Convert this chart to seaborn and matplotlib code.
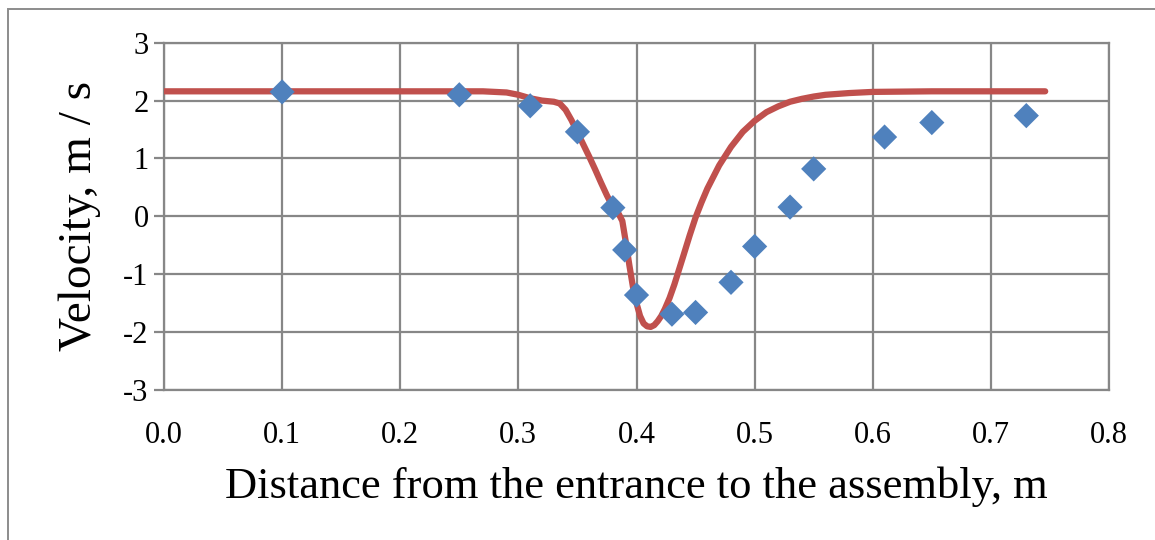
import matplotlib
matplotlib.use("Agg")
import matplotlib.pyplot as plt
import pandas as pd
import numpy as np
import seaborn as sns

# measured velocity (diamonds)
meas_x = [0.10, 0.25, 0.31, 0.35, 0.38, 0.39, 0.40, 0.43, 0.45, 0.48, 0.50, 0.53, 0.55, 0.61, 0.65, 0.73]
meas_v = [2.15, 2.10, 1.91, 1.46, 0.15, -0.58, -1.36, -1.69, -1.66, -1.14, -0.52, 0.16, 0.82, 1.37, 1.62, 1.74]

# calculated velocity (red curve)
calc_x = [0.0, 0.05, 0.10, 0.15, 0.20, 0.25, 0.27, 0.29, 0.30, 0.31, 0.32, 0.33, 0.335, 0.34,
          0.345, 0.35, 0.355, 0.36, 0.365, 0.37, 0.375, 0.38, 0.385, 0.388, 0.391, 0.394,
          0.397, 0.400, 0.403, 0.406, 0.409, 0.412, 0.415, 0.418, 0.421, 0.424, 0.428,
          0.432, 0.436, 0.44, 0.445, 0.45, 0.455, 0.46, 0.47, 0.48, 0.49, 0.50, 0.51,
          0.52, 0.53, 0.54, 0.55, 0.56, 0.58, 0.60, 0.65, 0.70, 0.746]
calc_v = [2.16, 2.16, 2.16, 2.16, 2.16, 2.16, 2.16, 2.14, 2.10, 2.04, 2.00, 1.98, 1.95, 1.84,
          1.66, 1.45, 1.24, 1.03, 0.81, 0.58, 0.36, 0.16, 0.04, -0.08, -0.45, -0.85,
          -1.22, -1.50, -1.72, -1.85, -1.90, -1.91, -1.88, -1.81, -1.72, -1.60, -1.41,
          -1.18, -0.92, -0.66, -0.33, -0.02, 0.24, 0.48, 0.88, 1.20, 1.46, 1.65, 1.80,
          1.90, 1.98, 2.03, 2.07, 2.10, 2.13, 2.15, 2.16, 2.16, 2.16]

xticks = [0.0, 0.1, 0.2, 0.3, 0.4, 0.5, 0.6, 0.7, 0.8]
yticks = [-3, -2, -1, 0, 1, 2, 3]

sns.set_style("white")
plt.rcParams["font.family"] = ["Liberation Serif", "DejaVu Serif"]
plt.rcParams["text.color"] = "black"
plt.rcParams["axes.labelcolor"] = "black"
plt.rcParams["xtick.color"] = "black"
plt.rcParams["ytick.color"] = "black"

calc = pd.DataFrame({"x": calc_x, "v": calc_v})
meas = pd.DataFrame({"x": meas_x, "v": meas_v})

fig = plt.figure(figsize=(11.55, 5.4), dpi=100)
ax = fig.add_axes([164 / 1155, 150 / 540, (1109 - 164) / 1155, (390 - 42.7) / 540])

grid_c = "#878787"
sns.lineplot(data=calc, x="x", y="v", ax=ax, color="#C0504D", linewidth=4.5,
             sort=False, solid_capstyle="round", zorder=3)
sns.scatterplot(data=meas, x="x", y="v", ax=ax, marker="D", s=165, color="#4F81BD",
                edgecolor="none", zorder=4)

ax.set_xlim(0, 0.8)
ax.set_ylim(-3, 3)
ax.set_xticks(xticks)
ax.set_xticklabels([f"{t:.1f}" for t in xticks])
ax.set_yticks(yticks)
ax.set_yticklabels([str(t) for t in yticks])
ax.grid(True, color=grid_c, linewidth=1.6)
ax.set_axisbelow(True)
for sp in ax.spines.values():
    sp.set_color(grid_c)
    sp.set_linewidth(1.6)
ax.tick_params(axis="y", length=7, width=1.6, color=grid_c, labelcolor="black",
               pad=4, labelsize=22, left=True)
ax.tick_params(axis="x", length=0, pad=22, labelsize=22, labelcolor="black")

ax.set_xlabel("Distance from the entrance to the assembly, m", fontsize=32, labelpad=12)
ax.set_ylabel("Velocity, m / s", fontsize=34, labelpad=16)

# outer chart border
fig.patches.append(plt.Rectangle((8 / 1155, -0.1), 1.2, (540 - 9) / 540 + 0.1,
                                 transform=fig.transFigure, fill=False,
                                 edgecolor="#8c8c8c", linewidth=1.4))

fig.savefig("out.png", dpi=100)
